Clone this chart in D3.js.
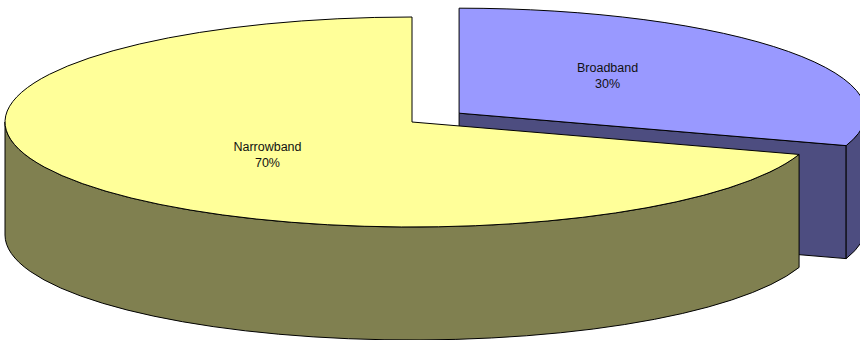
<!DOCTYPE html>
<html><head><meta charset="utf-8">
<script src="https://cdn.jsdelivr.net/npm/d3@7/dist/d3.min.js"></script>
<style>html,body{margin:0;padding:0;background:#fff;}svg{display:block;}</style>
</head><body>
<svg id="chart" width="860" height="340"></svg>
<script>
const categories = ["Broadband", "Narrowband"];
const values = [30, 70];
const percentLabels = ["30%", "70%"];
const topColors = ["#9999FF", "#FFFF99"];
const sideColors = ["#4D4D80", "#808050"];

const svg = d3.select("#chart");
const cx = 412, cy = 122, rx = 407, ry = 105, depth = 113;
const explode = [0.143, 0];

const pie = d3.pie().sort(null).value(d => d);
const arcs = pie(values).map((a, i) => {
  const mid = (a.startAngle + a.endAngle) / 2;
  const e = explode[i];
  return Object.assign({}, a, {
    i, mid,
    ox: cx + e * rx * Math.sin(mid),
    oy: cy - e * ry * Math.cos(mid)
  });
});

function pt(a, ang, dz) {
  return [a.ox + rx * Math.sin(ang), a.oy - ry * Math.cos(ang) + (dz || 0)];
}
function topPath(a) {
  const p0 = pt(a, a.startAngle), p1 = pt(a, a.endAngle);
  const large = (a.endAngle - a.startAngle) > Math.PI ? 1 : 0;
  const p = d3.path();
  p.moveTo(a.ox, a.oy);
  p.lineTo(p0[0], p0[1]);
  return p.toString() + `A${rx},${ry} 0 ${large} 1 ${p1[0]},${p1[1]}Z`;
}
function rimPath(a, s, e) {
  const p0 = pt(a, s), p1 = pt(a, e), q1 = pt(a, e, depth), q0 = pt(a, s, depth);
  const large = (e - s) > Math.PI ? 1 : 0;
  return `M${p0[0]},${p0[1]}A${rx},${ry} 0 ${large} 1 ${p1[0]},${p1[1]}L${q1[0]},${q1[1]}A${rx},${ry} 0 ${large} 0 ${q0[0]},${q0[1]}Z`;
}
function radialFace(a, ang) {
  const p = pt(a, ang);
  return `M${a.ox},${a.oy}L${p[0]},${p[1]}L${p[0]},${p[1] + depth}L${a.ox},${a.oy + depth}Z`;
}

const g = svg.append("g").attr("stroke", "#000").attr("stroke-width", 1).attr("stroke-linejoin", "round");
const HALF = Math.PI / 2, THREEHALF = 3 * Math.PI / 2;

arcs.forEach(a => {
  if (a.endAngle > HALF && a.endAngle < THREEHALF) {
    g.append("path").attr("d", radialFace(a, a.endAngle)).attr("fill", sideColors[a.i]);
  }
  const s = Math.max(a.startAngle, HALF), e = Math.min(a.endAngle, THREEHALF);
  if (e > s) g.append("path").attr("d", rimPath(a, s, e)).attr("fill", sideColors[a.i]);
  g.append("path").attr("d", topPath(a)).attr("fill", topColors[a.i]);
});

const lab = svg.append("g").attr("font-family", "Liberation Sans, Arial, sans-serif")
  .attr("font-size", 12.5).attr("fill", "#111").attr("text-anchor", "middle");
arcs.forEach(a => {
  const lx = a.ox + 0.445 * rx * Math.sin(a.mid) + 2;
  const ly = a.oy - 0.575 * ry * Math.cos(a.mid) - 3;
  const t = lab.append("text").attr("x", lx).attr("y", ly);
  t.append("tspan").attr("x", lx).attr("dy", -3).text(categories[a.i]);
  t.append("tspan").attr("x", lx).attr("dy", 16).text(percentLabels[a.i]);
});
</script>
</body></html>
